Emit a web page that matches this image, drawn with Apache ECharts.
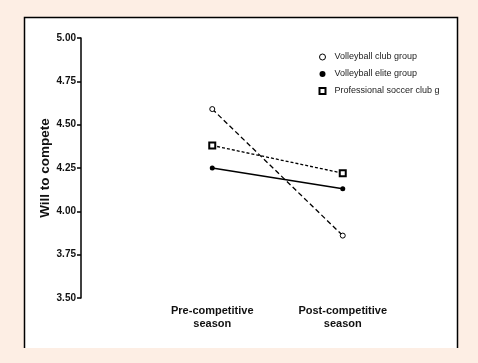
<!DOCTYPE html>
<html>
<head>
<meta charset="utf-8">
<script src="https://cdn.jsdelivr.net/npm/echarts@6/dist/echarts.min.js"></script>
<style>
html,body{margin:0;padding:0;background:#fdeee4;}
#c{width:478px;height:363px;}
</style>
</head>
<body>
<div id="c"></div>
<script>
var categories = ['Pre-competitive\nseason', 'Post-competitive\nseason'];
var seriesNames = ['Volleyball club group', 'Volleyball elite group', 'Professional soccer club group'];
var clubValues = [4.59, 3.86];
var eliteValues = [4.25, 4.13];
var soccerValues = [4.38, 4.22];
var yTicks = [3.50, 3.75, 4.00, 4.25, 4.50, 4.75, 5.00];

var FONT = '"Liberation Sans", Arial, sans-serif';
var chart = echarts.init(document.getElementById('c'), null, {renderer: 'canvas'});
chart.setOption({
  backgroundColor: '#fdeee4',
  animation: false,
  graphic: [
    {type: 'rect', z: -10, shape: {x: 24, y: 17, width: 433, height: 331}, style: {fill: '#ffffff'}},
    {type: 'polyline', z: -9, shape: {points: [[24.5, 348], [24.5, 17.5], [457.5, 17.5], [457.5, 348]]}, style: {stroke: '#000', lineWidth: 1.5, fill: null}}
  ],
  grid: {left: 147, width: 261, top: 38, bottom: 65},
  legend: {
    orient: 'vertical',
    left: 313.5,
    top: 46,
    itemWidth: 6,
    itemHeight: 6,
    itemGap: 5,
    textStyle: {fontFamily: FONT, fontSize: 9, color: '#222', lineHeight: 12, padding: [0, 0, 0, 4], width: 108, overflow: 'truncate', ellipsis: ''},
    data: [
      {name: seriesNames[0], icon: 'circle', itemStyle: {color: '#fff', borderColor: '#000', borderWidth: 1}},
      {name: seriesNames[1], icon: 'circle', itemStyle: {color: '#000', borderColor: '#000', borderWidth: 0}},
      {name: seriesNames[2], icon: 'rect', itemStyle: {color: '#fff', borderColor: '#000', borderWidth: 2}}
    ]
  },
  xAxis: {
    type: 'category',
    data: categories,
    boundaryGap: true,
    axisLine: {show: false},
    axisTick: {show: false},
    splitLine: {show: false},
    axisLabel: {fontFamily: FONT, fontSize: 11, fontWeight: 'bold', color: '#111', lineHeight: 13, margin: 6, interval: 0}
  },
  yAxis: {
    type: 'value',
    min: 3.5,
    max: 5,
    interval: 0.25,
    offset: 66,
    name: 'Will to compete',
    nameLocation: 'middle',
    nameGap: 29,
    nameMoveOverlap: false,
    nameTextStyle: {fontFamily: FONT, fontSize: 13.5, fontWeight: 'bold', color: '#111'},
    axisLine: {show: true, lineStyle: {color: '#000', width: 1.5}},
    axisTick: {show: true, length: 4, lineStyle: {color: '#000', width: 1.5}},
    splitLine: {show: false},
    axisLabel: {fontFamily: FONT, fontSize: 10, fontWeight: 'bold', color: '#111', margin: 5,
      formatter: function (v) { return v.toFixed(2); }}
  },
  series: [
    {name: seriesNames[0], type: 'line', data: clubValues, symbol: 'circle', symbolSize: 5,
      itemStyle: {color: '#fff', borderColor: '#000', borderWidth: 1},
      lineStyle: {color: '#000', width: 1.3, type: [5, 3]}},
    {name: seriesNames[1], type: 'line', data: eliteValues, symbol: 'circle', symbolSize: 5,
      itemStyle: {color: '#000', borderColor: '#000', borderWidth: 0},
      lineStyle: {color: '#000', width: 1.6, type: 'solid'}},
    {name: seriesNames[2], type: 'line', data: soccerValues, symbol: 'rect', symbolSize: 6,
      itemStyle: {color: '#fff', borderColor: '#000', borderWidth: 2},
      lineStyle: {color: '#000', width: 1.3, type: [3, 2]}}
  ]
});
</script>
</body>
</html>
